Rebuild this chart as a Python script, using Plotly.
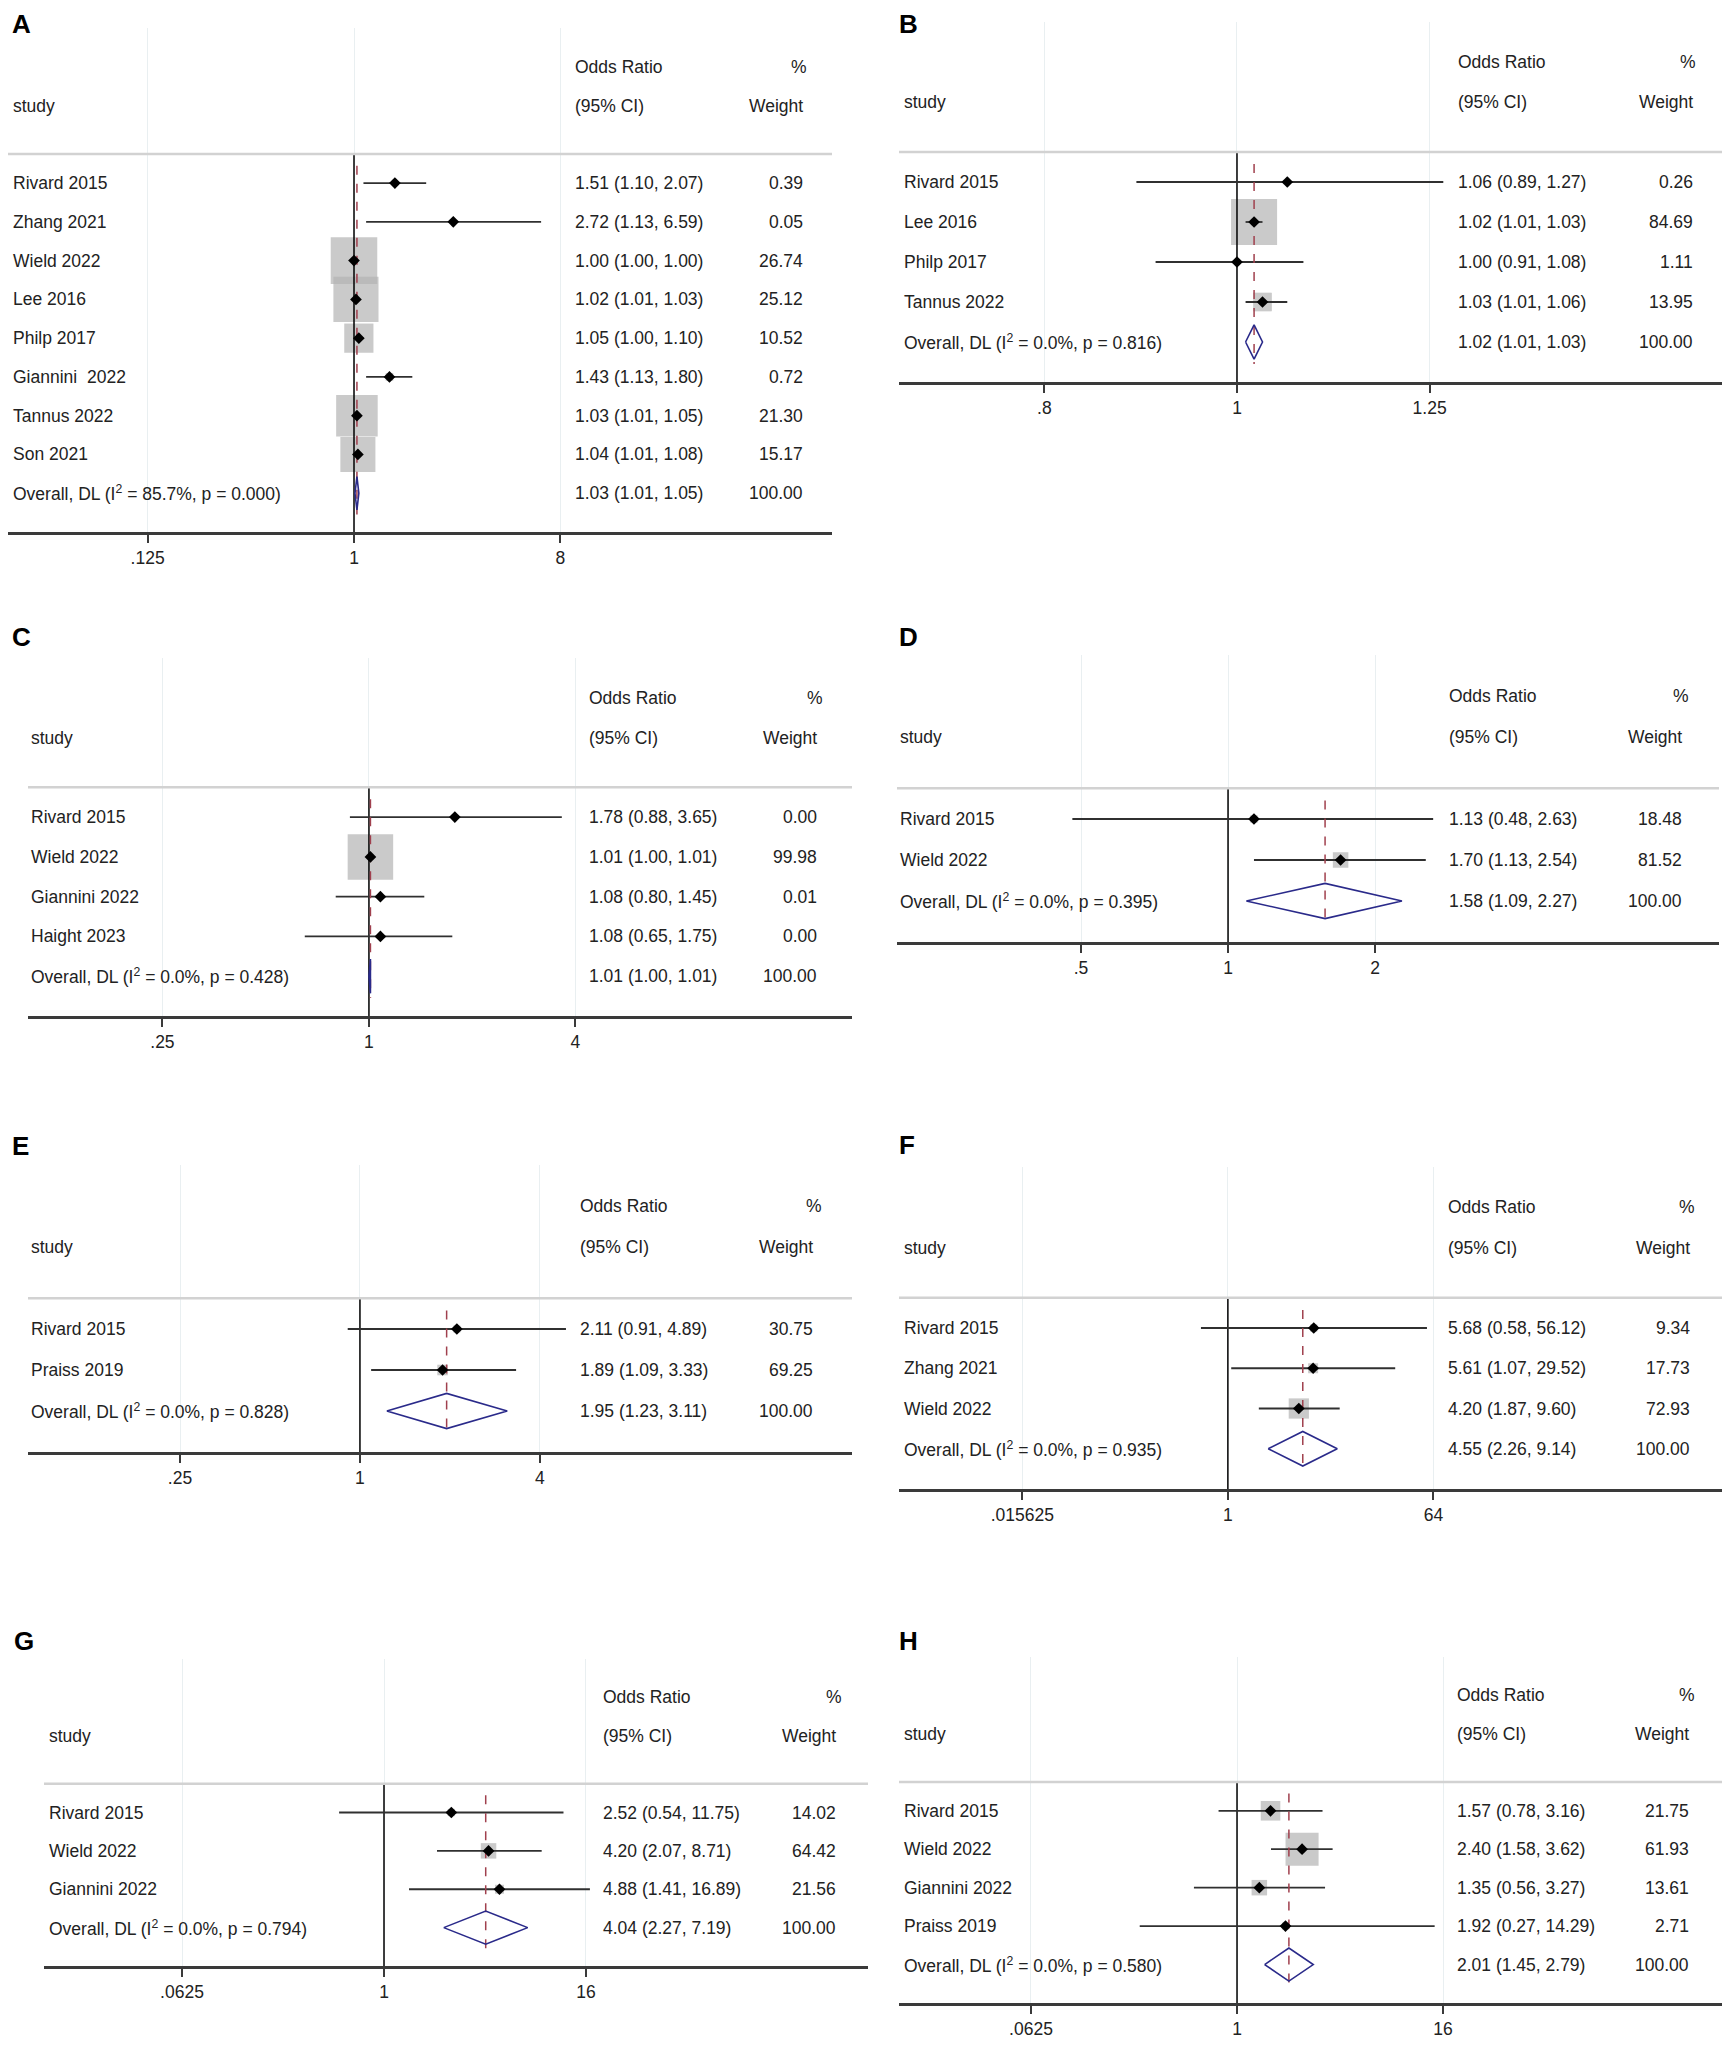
"""
Meta 分析森林图 (8 个子图 A-H) 的 Plotly 复现
"""

import math
import plotly.graph_objects as go

W, H = 1733, 2052
# 页面 body 默认有 8px 边距, 图形尺寸与坐标相应扣除
OFF = 8
FW, FH = W - 2 * OFF, H - 2 * OFF
FONT = 'Liberation Sans, Arial, sans-serif'
TXT = '#222222'

# ---------------- 数据 ----------------
studies_A = ['Rivard 2015', 'Zhang 2021', 'Wield 2022', 'Lee 2016', 'Philp 2017',
             'Giannini\u00a0 2022', 'Tannus 2022', 'Son 2021']
or_A = [1.51, 2.72, 1.00, 1.02, 1.05, 1.43, 1.03, 1.04]
lo_A = [1.10, 1.13, 1.00, 1.01, 1.00, 1.13, 1.01, 1.01]
hi_A = [2.07, 6.59, 1.00, 1.03, 1.10, 1.80, 1.05, 1.08]
weight_A = [0.39, 0.05, 26.74, 25.12, 10.52, 0.72, 21.30, 15.17]
overall_A = [1.03, 1.01, 1.05]
het_A = [85.7, 0.000]
ticks_A = [0.125, 1, 8]
ticklabels_A = ['.125', '1', '8']

studies_B = ['Rivard 2015', 'Lee 2016', 'Philp 2017', 'Tannus 2022']
or_B = [1.06, 1.02, 1.00, 1.03]
lo_B = [0.89, 1.01, 0.91, 1.01]
hi_B = [1.27, 1.03, 1.08, 1.06]
weight_B = [0.26, 84.69, 1.11, 13.95]
overall_B = [1.02, 1.01, 1.03]
het_B = [0.0, 0.816]
ticks_B = [0.8, 1, 1.25]
ticklabels_B = ['.8', '1', '1.25']

studies_C = ['Rivard 2015', 'Wield 2022', 'Giannini 2022', 'Haight 2023']
or_C = [1.78, 1.01, 1.08, 1.08]
lo_C = [0.88, 1.00, 0.80, 0.65]
hi_C = [3.65, 1.01, 1.45, 1.75]
weight_C = [0.00, 99.98, 0.01, 0.00]
overall_C = [1.01, 1.00, 1.01]
het_C = [0.0, 0.428]
ticks_C = [0.25, 1, 4]
ticklabels_C = ['.25', '1', '4']

studies_D = ['Rivard 2015', 'Wield 2022']
or_D = [1.13, 1.70]
lo_D = [0.48, 1.13]
hi_D = [2.63, 2.54]
weight_D = [18.48, 81.52]
overall_D = [1.58, 1.09, 2.27]
het_D = [0.0, 0.395]
ticks_D = [0.5, 1, 2]
ticklabels_D = ['.5', '1', '2']

studies_E = ['Rivard 2015', 'Praiss 2019']
or_E = [2.11, 1.89]
lo_E = [0.91, 1.09]
hi_E = [4.89, 3.33]
weight_E = [30.75, 69.25]
overall_E = [1.95, 1.23, 3.11]
het_E = [0.0, 0.828]
ticks_E = [0.25, 1, 4]
ticklabels_E = ['.25', '1', '4']

studies_F = ['Rivard 2015', 'Zhang 2021', 'Wield 2022']
or_F = [5.68, 5.61, 4.20]
lo_F = [0.58, 1.07, 1.87]
hi_F = [56.12, 29.52, 9.60]
weight_F = [9.34, 17.73, 72.93]
overall_F = [4.55, 2.26, 9.14]
het_F = [0.0, 0.935]
ticks_F = [0.015625, 1, 64]
ticklabels_F = ['.015625', '1', '64']

studies_G = ['Rivard 2015', 'Wield 2022', 'Giannini 2022']
or_G = [2.52, 4.20, 4.88]
lo_G = [0.54, 2.07, 1.41]
hi_G = [11.75, 8.71, 16.89]
weight_G = [14.02, 64.42, 21.56]
overall_G = [4.04, 2.27, 7.19]
het_G = [0.0, 0.794]
ticks_G = [0.0625, 1, 16]
ticklabels_G = ['.0625', '1', '16']

studies_H = ['Rivard 2015', 'Wield 2022', 'Giannini 2022', 'Praiss 2019']
or_H = [1.57, 2.40, 1.35, 1.92]
lo_H = [0.78, 1.58, 0.56, 0.27]
hi_H = [3.16, 3.62, 3.27, 14.29]
weight_H = [21.75, 61.93, 13.61, 2.71]
overall_H = [2.01, 1.45, 2.79]
het_H = [0.0, 0.580]
ticks_H = [0.0625, 1, 16]
ticklabels_H = ['.0625', '1', '16']

# 合并结果的总权重
overall_weight = 100.00

panels = [
    ('A', studies_A, or_A, lo_A, hi_A, weight_A, overall_A, het_A, ticks_A, ticklabels_A),
    ('B', studies_B, or_B, lo_B, hi_B, weight_B, overall_B, het_B, ticks_B, ticklabels_B),
    ('C', studies_C, or_C, lo_C, hi_C, weight_C, overall_C, het_C, ticks_C, ticklabels_C),
    ('D', studies_D, or_D, lo_D, hi_D, weight_D, overall_D, het_D, ticks_D, ticklabels_D),
    ('E', studies_E, or_E, lo_E, hi_E, weight_E, overall_E, het_E, ticks_E, ticklabels_E),
    ('F', studies_F, or_F, lo_F, hi_F, weight_F, overall_F, het_F, ticks_F, ticklabels_F),
    ('G', studies_G, or_G, lo_G, hi_G, weight_G, overall_G, het_G, ticks_G, ticklabels_G),
    ('H', studies_H, or_H, lo_H, hi_H, weight_H, overall_H, het_H, ticks_H, ticklabels_H),
]

# ---------------- 版式 (窗口像素) ----------------
# 子图区域: 左, 右, 上, 下
frames = {
    'A': (8, 832, 28, 532), 'B': (899, 1722, 22, 382),
    'C': (28, 852, 658, 1016), 'D': (897, 1719, 655, 942),
    'E': (28, 852, 1165, 1452), 'F': (899, 1722, 1167, 1489),
    'G': (44, 868, 1659, 1966), 'H': (899, 1722, 1657, 2003),
}
# 横轴显示范围 (OR 值)
xranges = {
    'A': (0.0306, 123.6), 'B': (0.676, 1.754), 'C': (0.1014, 25.6), 'D': (0.210, 10.12),
    'E': (0.0775, 44.3), 'F': (0.00129, 21940), 'G': (0.0094, 768), 'H': (0.01058, 683),
}
# 文字列: study 左边, CI 左边, Weight 右边, % 右边
cols = {
    'A': (11, 573, 805, 809), 'B': (902, 1456, 1695, 1698),
    'C': (29, 587, 819, 825), 'D': (898, 1447, 1684, 1691),
    'E': (29, 578, 815, 824), 'F': (902, 1446, 1692, 1697),
    'G': (47, 601, 838, 844), 'H': (902, 1455, 1691, 1697),
}
# 方块边长系数 (边长 = k * sqrt(weight))
box_scale = {'A': 9.0, 'B': 5.0, 'C': 4.55, 'D': 1.72, 'E': 1.27, 'F': 2.37, 'G': 1.93, 'H': 4.2}
# 字母标签位置 (左边, 中心 y); None 表示贴齐图顶
letter_pos = {
    'A': (11, None), 'B': (898, None), 'C': (11, 636.5), 'D': (898, 636.5),
    'E': (11, 1146), 'F': (898, 1145), 'G': (13, 1641), 'H': (898, 1641),
}


def px(x):
    return (x - OFF) / FW


def py(y):
    return 1 - (y - OFF) / FH


def add_text(annots, text, x, y, yref, anchor, size=17.5):
    annots.append(dict(
        text=text, x=px(x), y=y, xref='paper', yref=yref,
        xanchor=anchor, yanchor='middle', showarrow=False,
        font=dict(family=FONT, size=size, color=TXT)
    ))


def plot_panel(fig, annots, shapes, i, key, studies, ors, los, his, weights,
               overall, het, ticks, ticklabels):
    """
    绘制单个森林图
    """
    sfx = '' if i == 1 else str(i)
    xa, ya = 'x' + sfx, 'y' + sfx
    n = len(studies)
    rows = list(range(1, n + 1))
    y_over = n + 1
    l, r, t, b = frames[key]

    # 坐标轴
    lo_r, hi_r = xranges[key]
    fig.layout['xaxis' + sfx] = dict(
        domain=[px(l), px(r)], anchor=ya, type='log',
        range=[math.log10(lo_r), math.log10(hi_r)],
        tickvals=ticks, ticktext=ticklabels, ticks='outside', ticklen=8,
        tickwidth=1.5, tickcolor='#3a3a3a', showline=True, linecolor='#3a3a3a',
        linewidth=2.5, showgrid=True, gridcolor='#e9eff1', gridwidth=1,
        zeroline=False, ticklabelstandoff=0,
        tickfont=dict(family=FONT, size=17.5, color=TXT), fixedrange=True
    )
    fig.layout['yaxis' + sfx] = dict(
        domain=[py(b), py(t)], anchor=xa, range=[y_over + 1, -3],
        visible=False, fixedrange=True
    )

    # 表头分隔线
    shapes.append(dict(type='line', xref=xa + ' domain', yref=ya, x0=0, x1=1,
                       y0=0.25, y1=0.25, line=dict(color='#d2d2d2', width=2.5)))

    # 权重方块
    k = box_scale[key]
    fig.add_trace(go.Scatter(
        x=ors, y=rows, xaxis=xa, yaxis=ya, mode='markers',
        marker=dict(symbol='square', size=[k * math.sqrt(w) for w in weights],
                    color='#b4b4b4', line=dict(width=0)),
        hoverinfo='skip'
    ))

    # 无效线 OR = 1
    fig.add_trace(go.Scatter(
        x=[1, 1], y=[0.25, y_over + 1], xaxis=xa, yaxis=ya, mode='lines',
        line=dict(color='black', width=1.5), hoverinfo='skip'
    ))

    # 置信区间
    cx, cy = [], []
    for lo, hi, rr in zip(los, his, rows):
        cx += [lo, hi, None]
        cy += [rr, rr, None]
    fig.add_trace(go.Scatter(
        x=cx, y=cy, xaxis=xa, yaxis=ya, mode='lines',
        line=dict(color='#303030', width=1.8), hoverinfo='skip'
    ))

    # 合并效应虚线
    fig.add_trace(go.Scatter(
        x=[overall[0], overall[0]], y=[0.55, y_over + 0.55], xaxis=xa, yaxis=ya,
        mode='lines', line=dict(color='#a0404e', width=1.5, dash='dash'),
        hoverinfo='skip'
    ))

    # 点估计
    fig.add_trace(go.Scatter(
        x=ors, y=rows, xaxis=xa, yaxis=ya, mode='markers',
        marker=dict(symbol='diamond', size=9, color='black'), hoverinfo='skip'
    ))

    # 合并菱形
    est, olo, ohi = overall
    hh = 0.43
    fig.add_trace(go.Scatter(
        x=[olo, est, ohi, est, olo], y=[y_over, y_over - hh, y_over, y_over + hh, y_over],
        xaxis=xa, yaxis=ya, mode='lines', line=dict(color='#2a2a8a', width=1.6),
        hoverinfo='skip'
    ))

    # 文字列
    c_study, c_ci, c_wt, c_pct = cols[key]
    add_text(annots, 'Odds Ratio', c_ci, -2, ya, 'left')
    add_text(annots, '%', c_pct, -2, ya, 'right')
    add_text(annots, 'study', c_study, -1, ya, 'left')
    add_text(annots, '(95% CI)', c_ci, -1, ya, 'left')
    add_text(annots, 'Weight', c_wt, -1, ya, 'right')
    for name, o, lo, hi, w, rr in zip(studies, ors, los, his, weights, rows):
        add_text(annots, name, c_study, rr, ya, 'left')
        add_text(annots, f'{o:.2f} ({lo:.2f}, {hi:.2f})', c_ci, rr, ya, 'left')
        add_text(annots, f'{w:.2f}', c_wt, rr, ya, 'right')
    i2, p = het
    add_text(annots, f'Overall, DL (I<sup>2</sup> = {i2:.1f}%, p = {p:.3f})',
             c_study, y_over, ya, 'left')
    add_text(annots, f'{est:.2f} ({olo:.2f}, {ohi:.2f})', c_ci, y_over, ya, 'left')
    add_text(annots, f'{overall_weight:.2f}', c_wt, y_over, ya, 'right')

    # 子图字母
    lx, ly = letter_pos[key]
    if ly is None:
        yy, yanc = 1.0, 'top'
    else:
        yy, yanc = py(ly), 'middle'
    annots.append(dict(
        text=f'<b>{key}</b>', x=px(lx), y=yy, xref='paper', yref='paper',
        xanchor='left', yanchor=yanc, showarrow=False, borderpad=0,
        font=dict(family=FONT, size=26, color='black')
    ))


fig = go.Figure()
annots, shapes = [], []
for i, p in enumerate(panels, start=1):
    plot_panel(fig, annots, shapes, i, *p)

fig.update_layout(
    width=FW, height=FH,
    margin=dict(l=0, r=0, t=0, b=0),
    paper_bgcolor='white', plot_bgcolor='white',
    showlegend=False, hovermode=False,
    annotations=annots, shapes=shapes
)

fig.write_html('out.html')
